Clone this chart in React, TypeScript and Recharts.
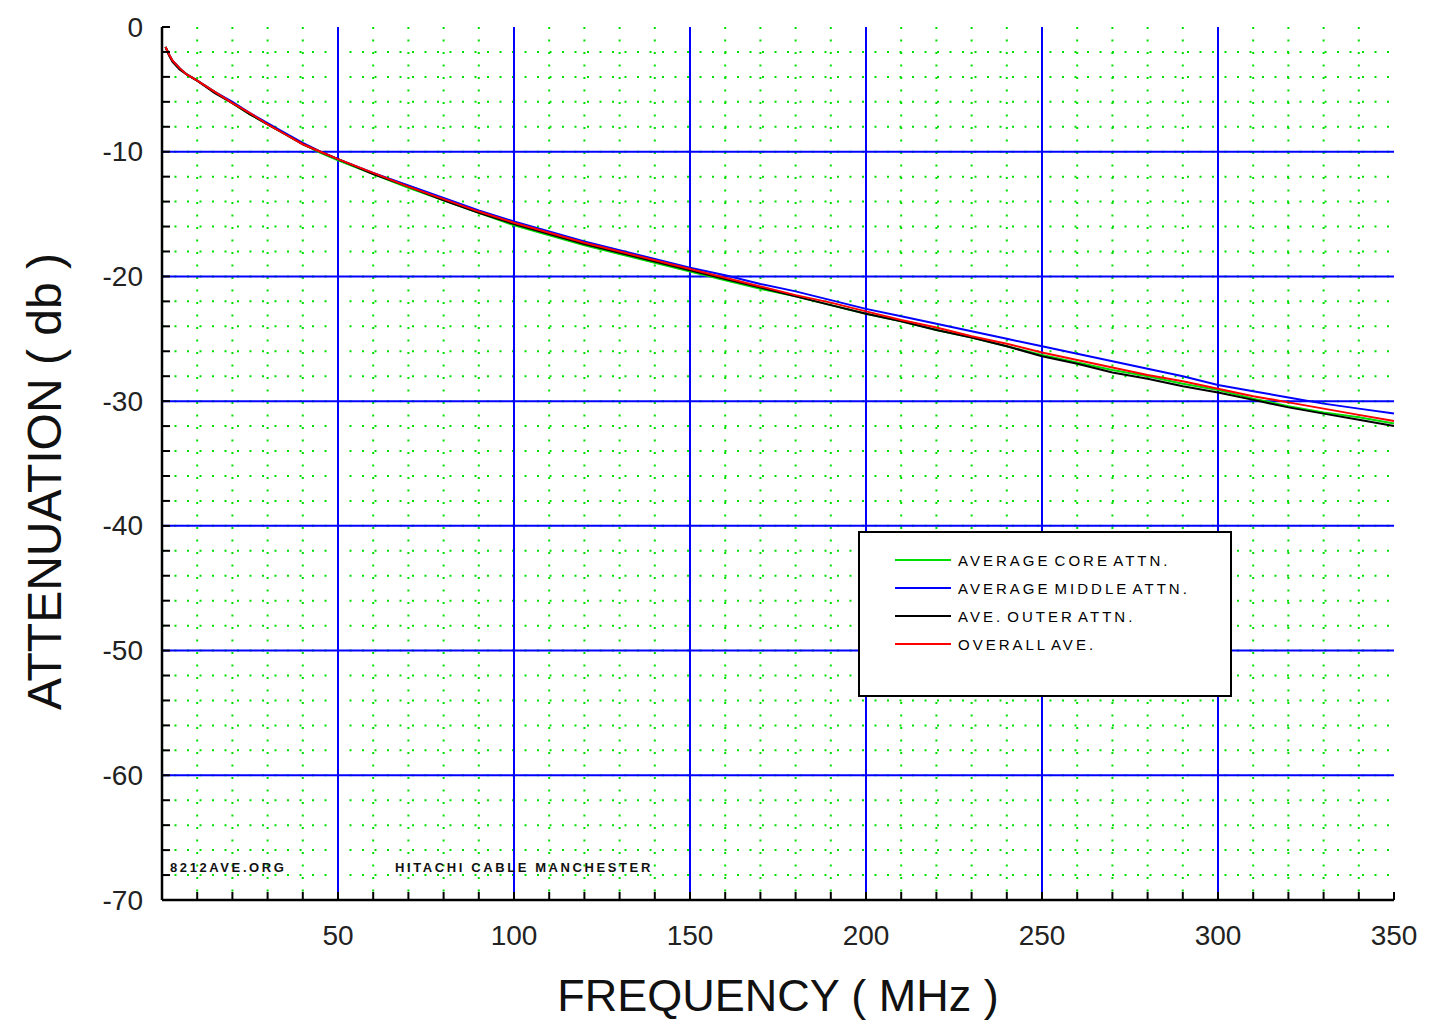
import React from "react";
import {
  CartesianGrid,
  Customized,
  Legend,
  Line,
  LineChart,
  XAxis,
  YAxis,
} from "recharts";

// frequency points (MHz)
const freqs = [
  1, 2, 3, 5, 7, 10, 15, 20, 25, 30, 35, 40, 45, 50, 60, 70, 80, 90, 100, 110,
  120, 130, 140, 150, 160, 170, 180, 190, 200, 210, 220, 230, 240, 250, 260,
  270, 280, 290, 300, 310, 320, 330, 340, 350,
];

// attenuation (db)
const coreAttn = [
  -1.6, -2.2, -2.7, -3.3, -3.8, -4.3, -5.2, -6.1, -7.0, -7.8, -8.6, -9.4,
  -10.1, -10.7, -11.8, -12.9, -13.9, -14.9, -15.9, -16.7, -17.5, -18.2, -18.9,
  -19.6, -20.3, -21.0, -21.6, -22.3, -23.0, -23.6, -24.3, -24.9, -25.6, -26.3,
  -26.9, -27.5, -28.0, -28.6, -29.1, -29.8, -30.4, -30.9, -31.3, -31.8,
];
const middleAttn = [
  -1.6, -2.2, -2.7, -3.3, -3.8, -4.3, -5.2, -6.0, -6.9, -7.7, -8.5, -9.3,
  -10.0, -10.6, -11.7, -12.7, -13.7, -14.7, -15.6, -16.4, -17.2, -17.9, -18.6,
  -19.3, -19.9, -20.6, -21.2, -21.9, -22.6, -23.2, -23.8, -24.4, -25.0, -25.6,
  -26.2, -26.8, -27.4, -28.0, -28.7, -29.2, -29.7, -30.2, -30.6, -31.0,
];
const outerAttn = [
  -1.6, -2.3, -2.8, -3.4, -3.8, -4.3, -5.3, -6.1, -7.0, -7.8, -8.6, -9.4,
  -10.0, -10.6, -11.8, -12.8, -13.9, -14.9, -15.8, -16.6, -17.4, -18.1, -18.8,
  -19.5, -20.2, -20.9, -21.6, -22.3, -23.0, -23.6, -24.3, -24.9, -25.6, -26.4,
  -27.0, -27.7, -28.2, -28.8, -29.3, -29.9, -30.5, -31.0, -31.5, -32.0,
];
const overallAve = [
  -1.6, -2.2, -2.7, -3.3, -3.8, -4.3, -5.2, -6.1, -6.9, -7.8, -8.6, -9.4,
  -10.0, -10.6, -11.7, -12.8, -13.8, -14.8, -15.7, -16.5, -17.3, -18.0, -18.7,
  -19.4, -20.1, -20.8, -21.5, -22.1, -22.8, -23.5, -24.1, -24.8, -25.4, -26.1,
  -26.7, -27.3, -27.9, -28.4, -29.0, -29.6, -30.1, -30.6, -31.1, -31.6,
];

const xTicks = [
  0, 10, 20, 30, 40, 50, 60, 70, 80, 90, 100, 110, 120, 130, 140, 150, 160,
  170, 180, 190, 200, 210, 220, 230, 240, 250, 260, 270, 280, 290, 300, 310,
  320, 330, 340, 350,
];
const yTicks = [
  -70, -68, -66, -64, -62, -60, -58, -56, -54, -52, -50, -48, -46, -44, -42,
  -40, -38, -36, -34, -32, -30, -28, -26, -24, -22, -20, -18, -16, -14, -12,
  -10, -8, -6, -4, -2, 0,
];
const xMajor = [50, 100, 150, 200, 250, 300];
const yMajor = [-60, -50, -40, -30, -20, -10];
const xMinor = xTicks.filter((v) => v > 0 && v < 350);
const yMinor = yTicks.filter((v) => v > -70 && v < 0);

const seriesNames = [
  "AVERAGE CORE ATTN.",
  "AVERAGE MIDDLE ATTN.",
  "AVE. OUTER ATTN.",
  "OVERALL AVE.",
];

const data = freqs.map((f, i) => ({
  freq: f,
  core: coreAttn[i],
  middle: middleAttn[i],
  outer: outerAttn[i],
  overall: overallAve[i],
}));

const FONT = '"Liberation Sans", Arial, Helvetica, sans-serif';

const BottomTick = (props: any) => {
  const { x, y, payload } = props;
  const v = payload.value;
  return (
    <g>
      <line x1={x} y1={y} x2={x} y2={y - 8} stroke="#000" strokeWidth={2} />
      {v > 0 && v % 50 === 0 && (
        <text
          x={x}
          y={y + 35}
          textAnchor="middle"
          dominantBaseline="central"
          fontSize={28}
          fontFamily={FONT}
          fill="#222"
        >
          {v}
        </text>
      )}
    </g>
  );
};

const TopTick = (props: any) => {
  const { x, y } = props;
  return <line x1={x} y1={y} x2={x} y2={y + 8} stroke="#000" strokeWidth={2} />;
};

const LeftTick = (props: any) => {
  const { x, y, payload } = props;
  const v = payload.value;
  return (
    <g>
      <line x1={x} y1={y} x2={x + 8} y2={y} stroke="#000" strokeWidth={2} />
      {v % 10 === 0 && (
        <text
          x={x - 19}
          y={y}
          textAnchor="end"
          dominantBaseline="central"
          fontSize={28}
          fontFamily={FONT}
          fill="#222"
        >
          {v}
        </text>
      )}
    </g>
  );
};

const YTitle = (props: any) => {
  const { viewBox } = props;
  const cx = 44;
  const cy = viewBox.y + viewBox.height / 2 + 18;
  return (
    <text
      x={cx}
      y={cy}
      transform={`rotate(-90, ${cx}, ${cy})`}
      textAnchor="middle"
      dominantBaseline="central"
      fontSize={48}
      fontFamily={FONT}
      fill="#111"
    >
      ATTENUATION ( db )
    </text>
  );
};

const renderLegend = (props: any) => {
  const items = [...(props.payload || [])].sort(
    (a: any, b: any) => seriesNames.indexOf(a.value) - seriesNames.indexOf(b.value)
  );
  return (
    <div
      style={{
        boxSizing: "border-box",
        width: 374,
        height: 166,
        background: "#fff",
        border: "2px solid #000",
        paddingTop: 13,
        paddingLeft: 35,
      }}
    >
      {items.map((item: any) => (
        <div
          key={item.value}
          style={{ display: "flex", alignItems: "center", height: 28 }}
        >
          <div style={{ width: 56, height: 2, background: item.color }} />
          <span
            style={{
              marginLeft: 7,
              fontSize: 15,
              letterSpacing: 3,
              wordSpacing: -3,
              fontFamily: FONT,
              color: "#000",
            }}
          >
            {item.value}
          </span>
        </div>
      ))}
    </div>
  );
};

const Watermarks = () => (
  <g fontFamily={FONT} fontSize={13} fontWeight="bold" fill="#111" letterSpacing={2.6}>
    <text x={170} y={872}>8212AVE.ORG</text>
    <text x={395} y={872}>HITACHI CABLE MANCHESTER</text>
  </g>
);

export default function App() {
  return (
    <div style={{ position: "absolute", left: 0, top: 0, background: "#fff" }}>
      <LineChart
        width={1429}
        height={1025}
        data={data}
        margin={{ top: 27, right: 35, bottom: 0, left: 0 }}
      >
        <CartesianGrid
          horizontalValues={yMinor}
          verticalValues={xMinor}
          stroke="#00e000"
          strokeWidth={2}
          strokeDasharray="2 10.5"
        />
        <CartesianGrid
          horizontalValues={yMajor}
          verticalValues={xMajor}
          stroke="#0000ff"
          strokeWidth={2}
        />
        <XAxis
          dataKey="freq"
          type="number"
          domain={[0, 350]}
          ticks={xTicks}
          interval={0}
          height={125}
          tickSize={0}
          tickMargin={0}
          tickLine={false}
          tick={BottomTick}
          axisLine={{ stroke: "#000", strokeWidth: 2.5 }}
          label={{
            value: "FREQUENCY ( MHz )",
            position: "insideBottom",
            offset: 14,
            fontSize: 45,
            fontFamily: FONT,
            fill: "#111",
          }}
        />
        <XAxis
          xAxisId="top"
          orientation="top"
          dataKey="freq"
          type="number"
          domain={[0, 350]}
          ticks={xTicks}
          interval={0}
          height={0}
          tickSize={0}
          tickMargin={0}
          tickLine={false}
          tick={TopTick}
          axisLine={{ stroke: "#000", strokeWidth: 2.5 }}
        />
        <YAxis
          type="number"
          domain={[-70, 0]}
          ticks={yTicks}
          interval={0}
          width={162}
          tickSize={0}
          tickMargin={0}
          tickLine={false}
          tick={LeftTick}
          axisLine={{ stroke: "#000", strokeWidth: 2.5 }}
          label={<YTitle />}
        />
        <YAxis
          yAxisId="right"
          orientation="right"
          type="number"
          domain={[-70, 0]}
          width={0}
          tick={false}
          tickLine={false}
          axisLine={{ stroke: "#000", strokeWidth: 3 }}
        />
        <Line
          type="linear"
          dataKey="core"
          name={seriesNames[0]}
          stroke="#00dd00"
          strokeWidth={2}
          dot={false}
          isAnimationActive={false}
        />
        <Line
          type="linear"
          dataKey="middle"
          name={seriesNames[1]}
          stroke="#0000ff"
          strokeWidth={2}
          dot={false}
          isAnimationActive={false}
        />
        <Line
          type="linear"
          dataKey="outer"
          name={seriesNames[2]}
          stroke="#000000"
          strokeWidth={2}
          dot={false}
          isAnimationActive={false}
        />
        <Line
          type="linear"
          dataKey="overall"
          name={seriesNames[3]}
          stroke="#ff0000"
          strokeWidth={2}
          dot={false}
          isAnimationActive={false}
        />
        <Legend
          layout="vertical"
          align="center"
          verticalAlign="middle"
          content={renderLegend}
          wrapperStyle={{ left: 858, top: 531, width: 374, height: 166 }}
        />
        <Customized component={Watermarks} />
      </LineChart>
    </div>
  );
}
